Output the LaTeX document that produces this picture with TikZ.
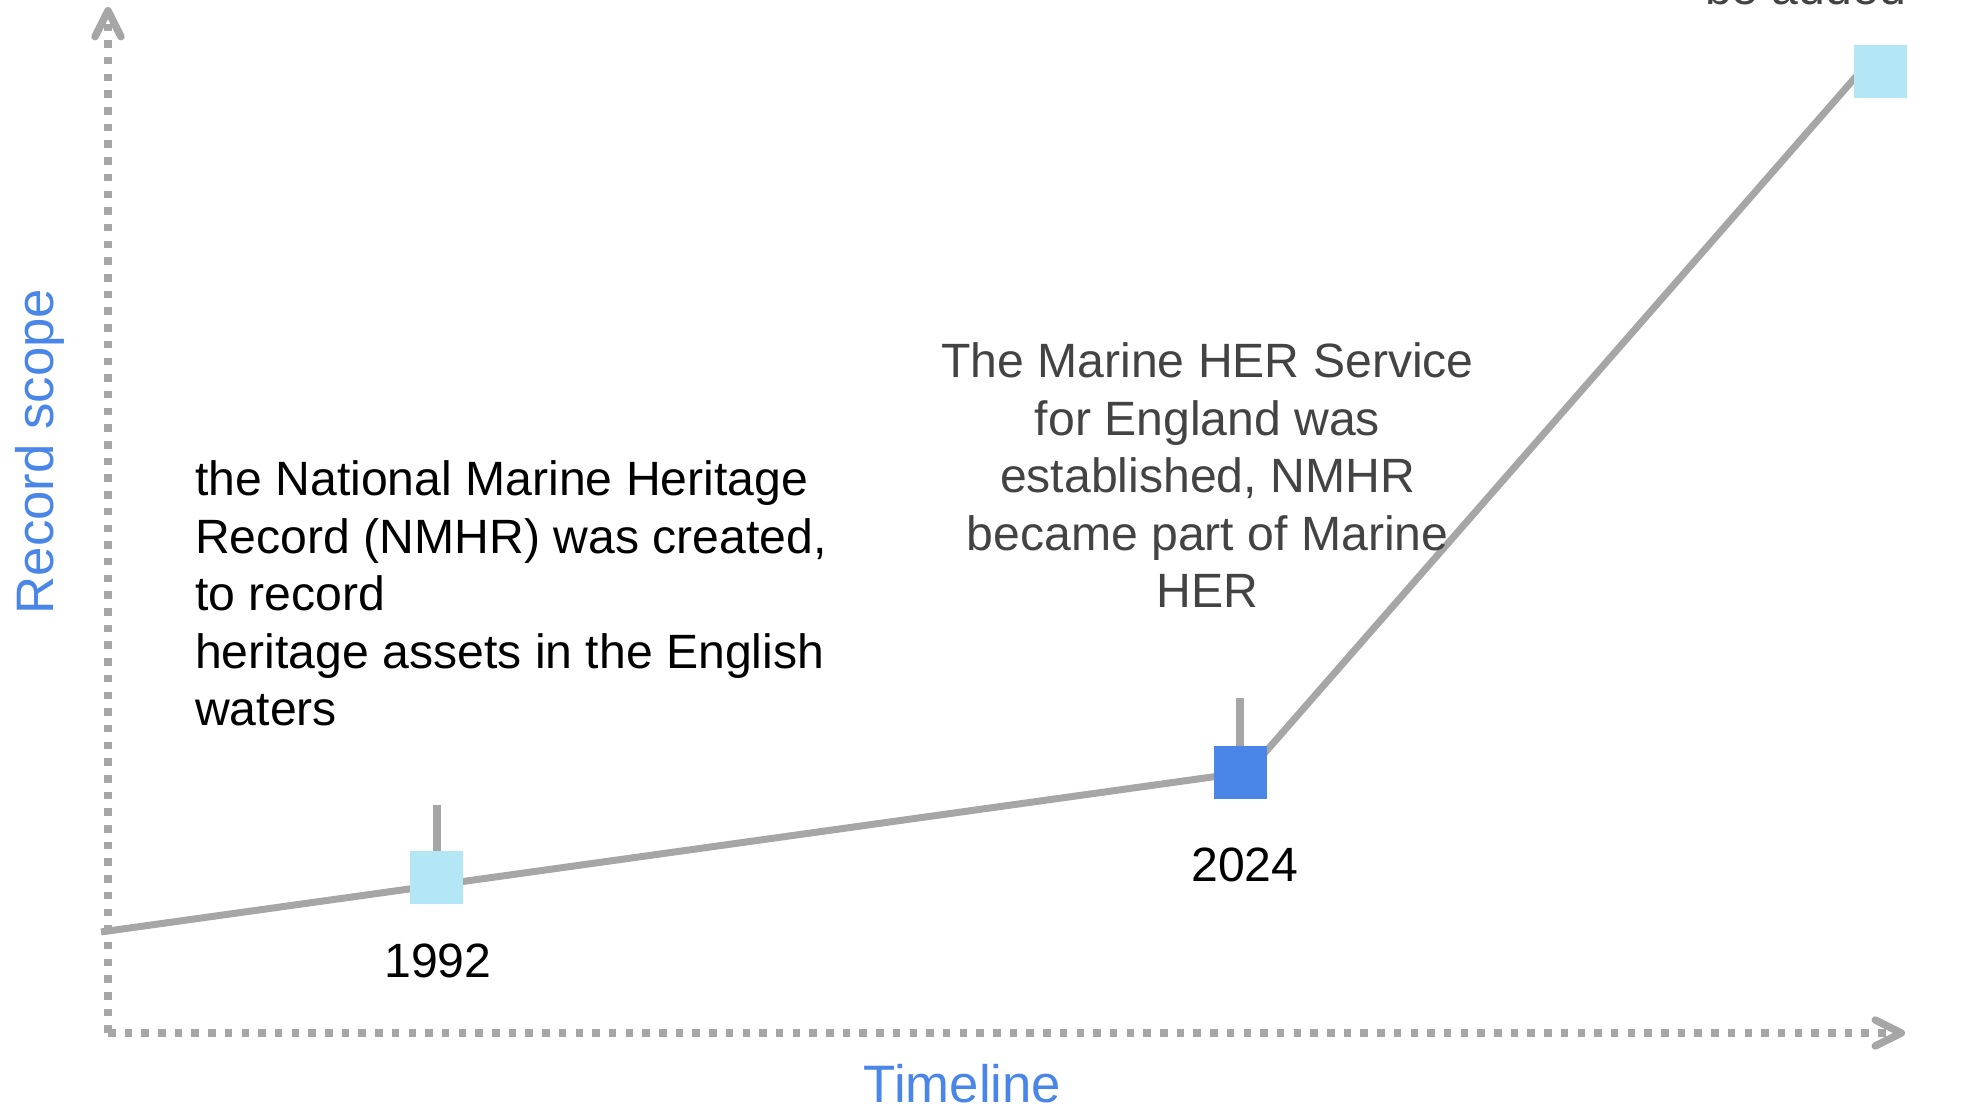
\documentclass[tikz,border=0pt]{standalone}
\usepackage{fontspec}
\setmainfont{Liberation Sans}
\usetikzlibrary{arrows.meta}
\usetikzlibrary{positioning}
\definecolor{axisgray}{HTML}{A6A6A6}
\definecolor{paleblue}{HTML}{B4E7F6}
\definecolor{markblue}{HTML}{4A86E8}
\definecolor{notegray}{HTML}{434343}
\tikzset{
	axisline/.style={axisgray, line width=0.075cm, dash pattern=on 0.075cm off 0.092cm, -{Straight Barb[round, length=2.6mm, width=2.6mm]}},
	scopeline/.style={axisgray, line width=0.07cm},
	yearbox/.style={minimum size=0.53cm, inner sep=0pt, outer sep=0pt},
	notetext/.style={font=\fontsize{13.7}{16.4}\selectfont, inner sep=0pt},
	axislabel/.style={markblue, font=\fontsize{15}{18}\selectfont, inner sep=0pt}
}

\begin{document}
\begin{tikzpicture}
			\useasboundingbox (0, 0) rectangle (19.8, 11.06);
			\coordinate (origin) at (1.08, 0.73);
			\coordinate (ytip) at (1.08, 10.99);
			\coordinate (xtip) at (19.05, 0.73);
			\draw [axisline] (origin) -- (ytip);
			\draw [axisline] (origin) -- (xtip);
			\node at (0.53, 6.545) [axislabel, rotate=90, anchor=base] (yname) {Record scope};
			\node at (9.625, 0.03) [axislabel, anchor=base] (xname) {Timeline};
			\coordinate (lstart) at (1.01, 1.74);
			\coordinate (bend) at (12.48, 3.34);
			\coordinate (lend) at (18.6, 10.34);
			\draw [scopeline] (lstart) -- (bend) -- (lend);
			\node at (4.365, 2.285) [yearbox, fill=paleblue] (sq1992) {};
			\node at (12.40, 3.335) [yearbox, fill=markblue] (sq2024) {};
			\node at (18.80, 10.345) [yearbox, fill=paleblue] (sqnext) {};
			\draw [scopeline, line width=0.08cm] (sq1992.north) -- ++(0, 0.46);
			\draw [scopeline, line width=0.08cm] (sq2024.north) -- ++(0, 0.48);
			\node at (4.38, 1.28) [notetext, anchor=base] (y1992) {1992};
			\node at (12.45, 2.24) [notetext, anchor=base] (y2024) {2024};
			\node at (1.945, 3.80) [notetext, anchor=base west, align=left] (note1992) {the National Marine Heritage\\Record (NMHR) was created,\\to record\\heritage assets in the English\\waters};
			\node at (12.075, 4.98) [notetext, notegray, anchor=base, align=center] (note2024) {The Marine HER Service\\for England was\\established, NMHR\\became part of Marine\\HER};
			\node at (18.055, 11.01) [notetext, notegray, anchor=base] (notenext) {be added};
		\end{tikzpicture}
\end{document}
